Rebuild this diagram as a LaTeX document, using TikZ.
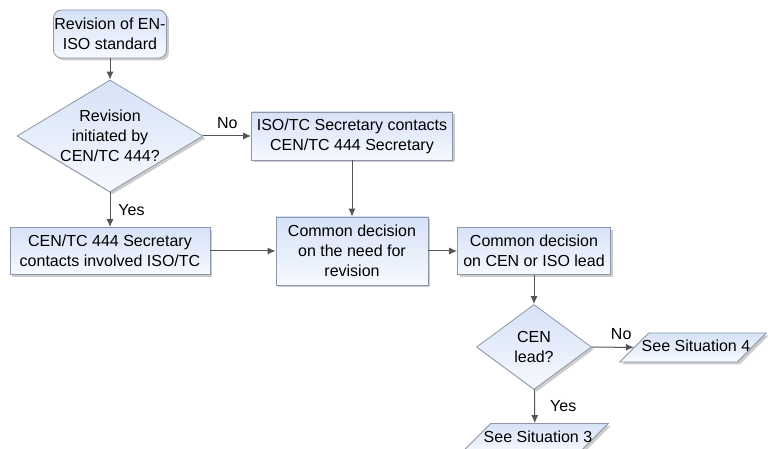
\documentclass[tikz,border=0pt]{standalone}
\usepackage{fontspec}
\setmainfont{Liberation Sans}
\usetikzlibrary{shapes.geometric,arrows.meta,shadows}
\definecolor{boxline}{RGB}{140,150,168}
\definecolor{boxtop}{RGB}{214,226,247}
\definecolor{boxbot}{RGB}{246,249,255}
\definecolor{flowgray}{RGB}{85,85,85}

\begin{document}
\begin{tikzpicture}[x=0.5pt,y=-0.5pt,
		font=\fontsize{8}{10}\selectfont,
		every node/.style={align=center,inner sep=0pt},
		shaded/.style={draw=boxline,line width=0.4pt,top color=boxtop,bottom color=boxbot,
			drop shadow={shadow xshift=1.2pt,shadow yshift=-1.2pt,fill=black!40,opacity=0.5}},
		procbox/.style={shaded,rectangle},
		startbox/.style={shaded,rectangle,rounded corners=4pt},
		decision/.style={shaded,diamond,inner sep=-4pt},
		seebox/.style={shaded,trapezium,trapezium left angle=45,trapezium right angle=135,
			trapezium stretches body,text height=6pt,text depth=1.7pt,inner ysep=3.4pt,
			inner xsep=-6.5pt,execute at begin node={\hspace*{3pt}}},
		flow/.style={draw=flowgray,line width=0.5pt,-{Latex[length=4pt,width=3.5pt]}}]
		% frame of the picture
		\useasboundingbox (0,0) rectangle (768,449);
		% boxes
		\node[startbox,minimum width=56.5pt,minimum height=24pt] (start) at (110,34) {Revision of EN-\\ISO standard};
		\node[decision,aspect=1.66,minimum width=93pt,minimum height=56pt] (initq) at (110,136) {Revision\\initiated by\\CEN/TC 444?};
		\node[procbox,minimum width=100.5pt,minimum height=24pt] (isosec) at (352,136) {ISO/TC Secretary contacts\\CEN/TC 444 Secretary};
		\node[procbox,minimum width=100pt,minimum height=23.5pt] (censec) at (110,251) {CEN/TC 444 Secretary\\contacts involved ISO/TC};
		\node[procbox,minimum width=76pt,minimum height=34pt] (need) at (352,251) {Common decision\\on the need for\\revision};
		\node[procbox,minimum width=76.5pt,minimum height=23.5pt] (lead) at (534,251) {Common decision\\on CEN or ISO lead};
		\node[decision,aspect=1.35,minimum width=57.5pt,minimum height=42.5pt] (leadq) at (534,347) {CEN\\lead?};
		\node[seebox] (sitfour) at (693,347.5) {See Situation 4};
		\node[seebox] (sitthree) at (535,438) {See Situation 3};
		% connectors
		\draw[flow] (start) -- (initq);
		\draw[flow] (initq) -- node[midway,above=3.5pt] {No} (isosec);
		\draw[flow] (initq) -- node[midway,right=4pt] {Yes} (censec);
		\draw[flow] (isosec) -- (need);
		\draw[flow] (censec) -- (need);
		\draw[flow] (need) -- (lead);
		\draw[flow] (lead) -- (leadq);
		\draw[flow] (leadq) -- node[pos=0.7,above=3.5pt] {No} (sitfour);
		\draw[flow] (leadq) -- node[midway,right=7.5pt] {Yes} (sitthree);
	\end{tikzpicture}
\end{document}
